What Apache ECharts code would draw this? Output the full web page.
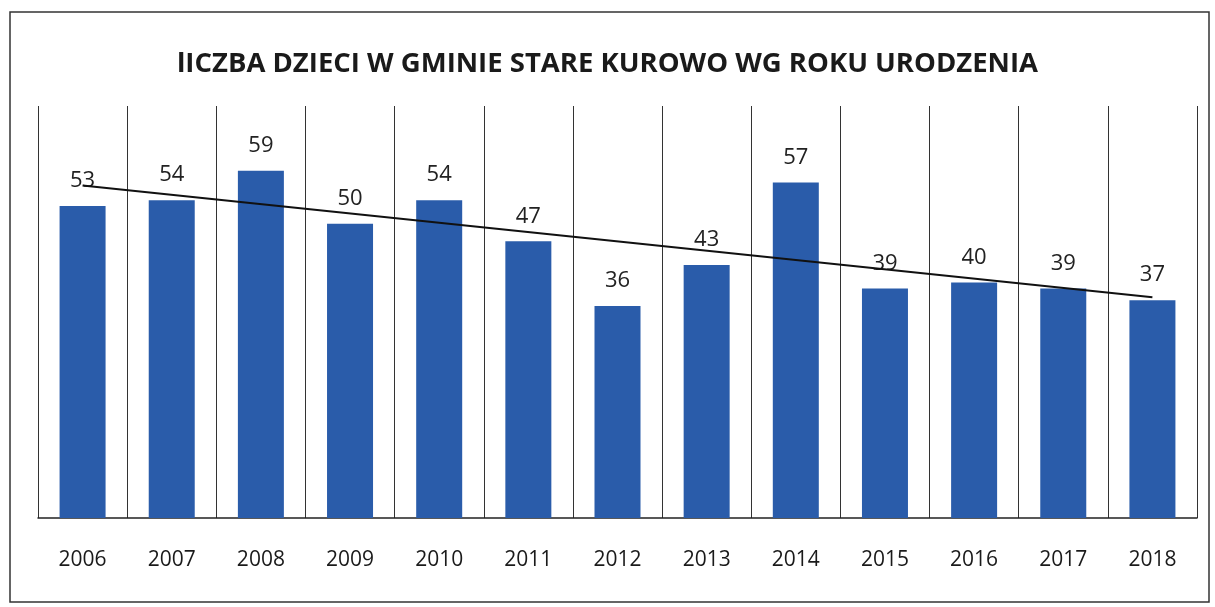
<!DOCTYPE html>
<html>
<head>
<meta charset="utf-8">
<script src="https://cdn.jsdelivr.net/npm/echarts@6/dist/echarts.min.js"></script>
<style>
html,body{margin:0;padding:0;background:#fff;}
#chart{width:1215px;height:607px;}
</style>
</head>
<body>
<div id="chart"></div>
<script>
// lata urodzenia
var years = ['2006','2007','2008','2009','2010','2011','2012','2013','2014','2015','2016','2017','2018'];
// liczba dzieci
var children = [53, 54, 59, 50, 54, 47, 36, 43, 57, 39, 40, 39, 37];
// linia trendu (poczatek i koniec)
var trend = [56.5, null, null, null, null, null, null, null, null, null, null, null, 37.5];

var chart = echarts.init(document.getElementById('chart'));
chart.setOption({
	animation: false,
	backgroundColor: '#fff',
	title: {
		text: 'lICZBA DZIECI W GMINIE STARE KUROWO WG ROKU URODZENIA',
		left: 'center',
		top: 45,
		textStyle: {
			fontFamily: 'Open Sans',
			fontSize: 27.5,
			fontWeight: 'bold',
			color: '#1a1a1a'
		}
	},
	graphic: [{
		type: 'rect',
		shape: {x: 10, y: 12, width: 1199, height: 590},
		style: {fill: 'none', stroke: '#333', lineWidth: 1.5}
	}],
	grid: {
		left: 38,
		right: 18,
		top: 106,
		bottom: 89
	},
	xAxis: {
		type: 'category',
		data: years,
		axisLine: {show: true, lineStyle: {color: '#222', width: 1.5}},
		axisTick: {show: false},
		axisLabel: {
			color: '#1a1a1a',
			fontFamily: 'Open Sans',
			fontSize: 21,
			margin: 32
		},
		splitLine: {
			show: true,
			interval: 0,
			lineStyle: {color: '#333', width: 1}
		}
	},
	yAxis: {
		type: 'value',
		min: 0,
		max: 70,
		show: false,
		splitLine: {show: false}
	},
	series: [
		{
			name: 'dzieci',
			type: 'bar',
			data: children,
			barWidth: 46,
			itemStyle: {color: '#2a5caa'},
			label: {
				show: true,
				position: 'top',
				distance: 14,
				color: '#222',
				fontFamily: 'Open Sans',
				fontSize: 22
			}
		},
		{
			name: 'trend',
			type: 'line',
			data: trend,
			connectNulls: true,
			symbol: 'none',
			z: 5,
			lineStyle: {color: '#111', width: 2}
		}
	]
});
</script>
</body>
</html>
